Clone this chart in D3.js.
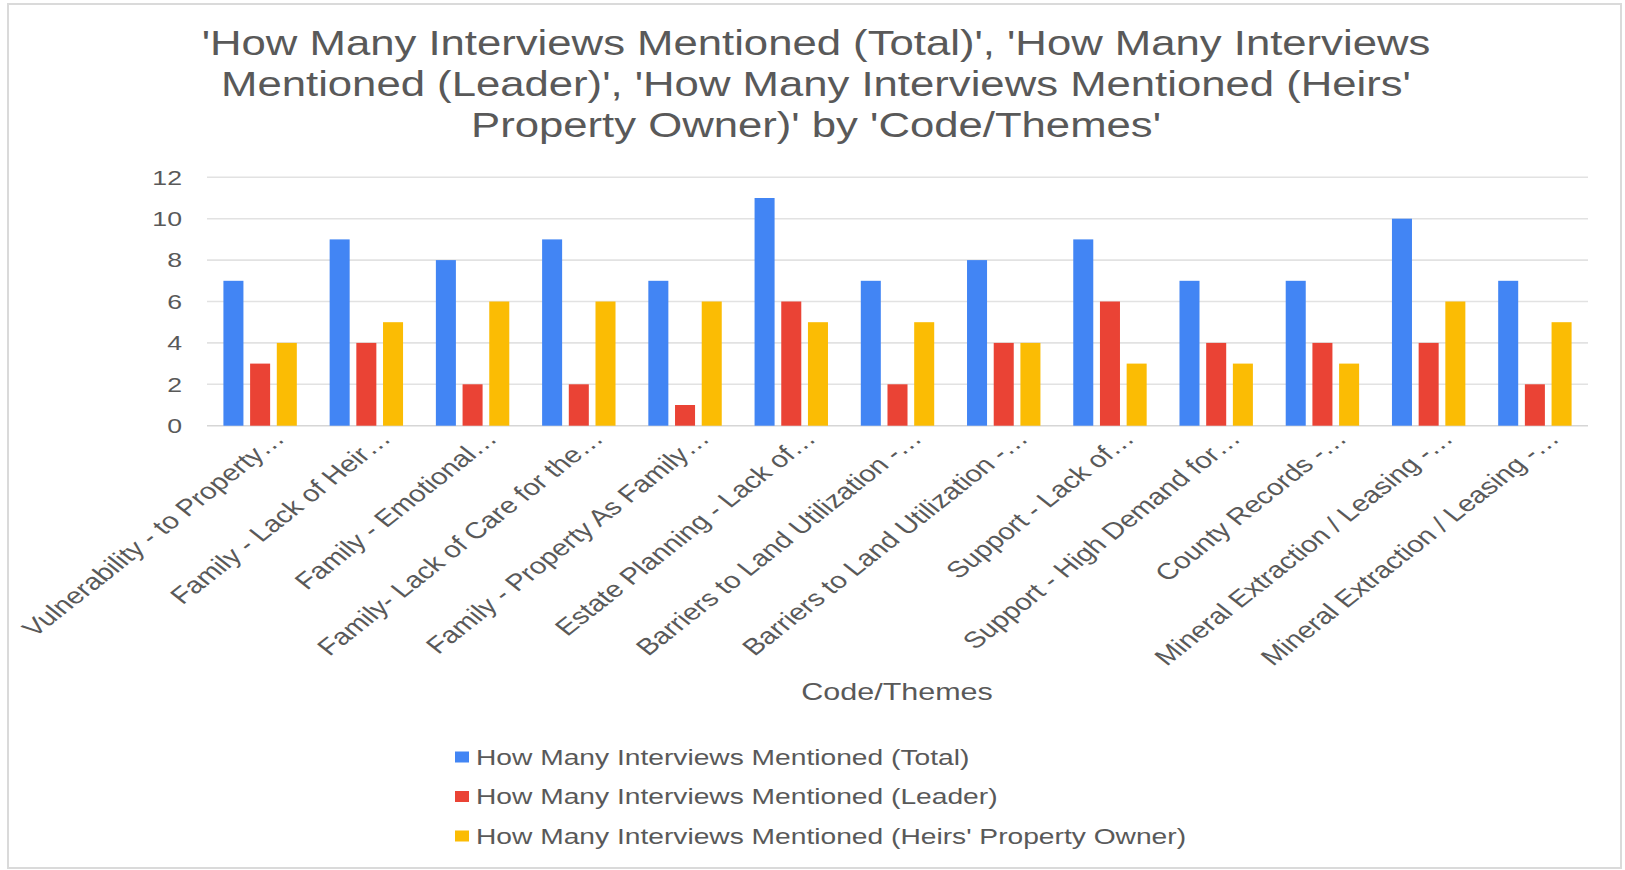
<!DOCTYPE html>
<html>
<head>
<meta charset="utf-8">
<script src="https://cdn.jsdelivr.net/npm/d3@7"></script>
<style>
  html, body { margin: 0; padding: 0; background: #fff; }
  svg { display: block; }
  text { font-family: "Liberation Sans", Arial, sans-serif; }
</style>
</head>
<body>
<svg id="chart" width="1625" height="870"></svg>
<script>
const titleLines = [
  "'How Many Interviews Mentioned (Total)', 'How Many Interviews",
  "Mentioned (Leader)', 'How Many Interviews Mentioned (Heirs'",
  "Property Owner)' by 'Code/Themes'"
];
const categories = [
  "Vulnerability - to Property…",
  "Family - Lack of Heir…",
  "Family - Emotional…",
  "Family- Lack of Care for the…",
  "Family - Property As Family…",
  "Estate Planning - Lack of…",
  "Barriers to Land Utilization -…",
  "Barriers to Land Utilization -…",
  "Support - Lack of…",
  "Support - High Demand for…",
  "County Records -…",
  "Mineral Extraction / Leasing -…",
  "Mineral Extraction / Leasing -…"
];
const seriesNames = [
  "How Many Interviews Mentioned (Total)",
  "How Many Interviews Mentioned (Leader)",
  "How Many Interviews Mentioned (Heirs' Property Owner)"
];
const totalValues  = [7, 9, 8, 9, 7, 11, 7, 8, 9, 7, 7, 10, 7];
const leaderValues = [3, 4, 2, 2, 1, 6, 2, 4, 6, 4, 4, 4, 2];
const ownerValues  = [4, 5, 6, 6, 6, 5, 5, 4, 3, 3, 3, 6, 5];
const seriesColors = ["#4285F4", "#EA4335", "#FBBC04"];
const yTicks = [0, 2, 4, 6, 8, 10, 12];
const xTitle = "Code/Themes";

const series = [totalValues, leaderValues, ownerValues];
const SX = 1.27; // horizontal stretch of the text
const svg = d3.select("#chart");
const textGray = "#595959";

// frame
svg.append("rect").attr("x", 8).attr("y", 4).attr("width", 1613).attr("height", 864)
  .attr("fill", "#fff").attr("stroke", "#dadada").attr("stroke-width", 2);

// title
titleLines.forEach((t, i) => {
  svg.append("text")
    .attr("transform", `translate(816,${55 + i * 41}) scale(${SX},1)`)
    .attr("text-anchor", "middle")
    .attr("font-size", 34.4)
    .attr("fill", textGray)
    .text(t);
});

const x0 = d3.scaleBand().domain(d3.range(categories.length)).range([207, 1588])
  .paddingInner(0.309).paddingOuter(0.1545);
const x1 = d3.scaleBand().domain(d3.range(series.length)).range([0, x0.bandwidth()])
  .paddingInner(0.25).paddingOuter(0);
const y = d3.scaleLinear().domain([0, 12]).range([425.7, 177.3]);

// gridlines
svg.append("g").selectAll("line").data(yTicks).join("line")
  .attr("x1", 207).attr("x2", 1588)
  .attr("y1", d => y(d)).attr("y2", d => y(d))
  .attr("stroke", d => d === 0 ? "#d6d6d6" : "#e2e2e2").attr("stroke-width", 1.6);

// y tick labels
svg.append("g").selectAll("text").data(yTicks).join("text")
  .attr("transform", d => `translate(182,${y(d)}) scale(${SX},1)`)
  .attr("dy", "0.35em")
  .attr("text-anchor", "end")
  .attr("font-size", 21)
  .attr("fill", textGray)
  .text(d => d);

// bars
const groups = svg.append("g").selectAll("g").data(categories.map((c, i) => i)).join("g")
  .attr("transform", i => `translate(${x0(i)},0)`);
groups.selectAll("rect").data(i => series.map((s, k) => ({k, v: s[i]}))).join("rect")
  .attr("x", d => x1(d.k))
  .attr("width", x1.bandwidth())
  .attr("y", d => y(d.v))
  .attr("height", d => y(0) - y(d.v))
  .attr("fill", d => seriesColors[d.k]);

// x labels (45° before stretch)
svg.append("g").selectAll("text").data(categories.map((c, i) => i)).join("text")
  .attr("transform", i => `translate(${x0(i) + x0.bandwidth() / 2 + 26},440) scale(${SX},1) rotate(-45)`)
  .attr("text-anchor", "end")
  .attr("font-size", 23)
  .attr("fill", textGray)
  .text(i => categories[i]);

// x axis title
svg.append("text")
  .attr("transform", `translate(897,700) scale(${SX},1)`)
  .attr("text-anchor", "middle")
  .attr("font-size", 24)
  .attr("fill", textGray)
  .text(xTitle);

// legend
const legend = svg.append("g").selectAll("g").data(seriesNames).join("g")
  .attr("transform", (d, i) => `translate(0,${757 + i * 39.5})`);
legend.append("rect")
  .attr("x", 455).attr("y", -5.5).attr("width", 14).attr("height", 11)
  .attr("fill", (d, i) => seriesColors[i]);
legend.append("text")
  .attr("transform", `translate(476,0) scale(${SX},1)`)
  .attr("dy", "0.35em")
  .attr("font-size", 22.2)
  .attr("fill", textGray)
  .text(d => d);
</script>
</body>
</html>
